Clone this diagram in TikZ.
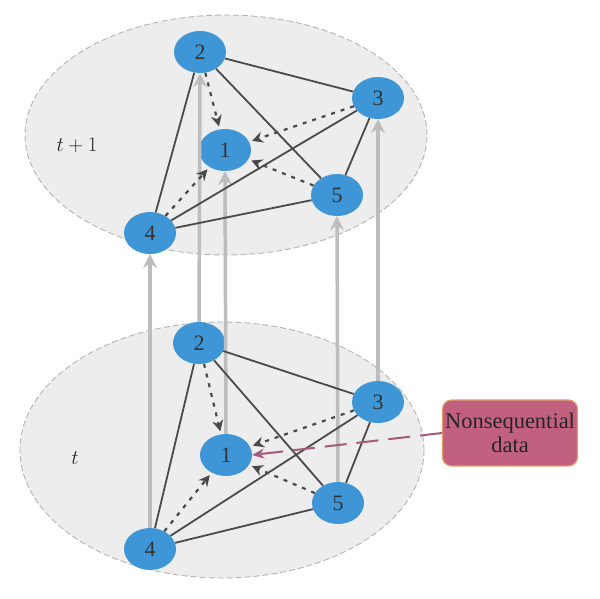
\documentclass[tikz,border=0pt]{standalone}
\usepackage{fontspec}
\setmainfont{Liberation Serif}
\usetikzlibrary{arrows.meta,shapes.geometric}
\definecolor{nodeblue}{HTML}{3E96D6}
\definecolor{planefill}{HTML}{EDEDED}
\definecolor{planeedge}{HTML}{B4B4B4}
\definecolor{edgegray}{HTML}{4A4A4A}
\definecolor{vgray}{HTML}{BDBDBD}
\definecolor{boxfill}{HTML}{C2607F}
\definecolor{boxedge}{HTML}{E5A06A}
\definecolor{pinkarrow}{HTML}{A8587A}
\tikzset{
  plane/.style={fill=planefill,draw=planeedge,dash pattern=on 6pt off 3pt,line width=0.9pt},
  vnode/.style={ellipse,fill=nodeblue,draw=none,minimum width=52pt,minimum height=42pt,inner sep=0pt,font=\fontsize{22}{24}\selectfont,text=black!80},
  edgeline/.style={draw=edgegray,line width=1.8pt},
  dotarrow/.style={draw=edgegray,line width=2.2pt,dash pattern=on 4pt off 6pt,-{Stealth[length=11pt,width=11pt]},shorten >=3pt},
  varrow/.style={draw=vgray,line width=3.5pt,-{Stealth[length=14pt,width=14pt,inset=5pt]}},
  labeltext/.style={font=\fontsize{20}{22}\selectfont,text=black!85},
  notebox/.style={rectangle,rounded corners=9pt,fill=boxfill,draw=boxedge,line width=1.2pt,minimum width=135pt,minimum height=66pt,align=center,font=\fontsize{22.5}{24}\selectfont,text=black!85,inner sep=2pt},
  notearrow/.style={draw=pinkarrow,line width=2pt,dash pattern=on 22pt off 10pt,-{Stealth[length=12pt,width=10pt]}}
}
\begin{document}
\begin{tikzpicture}[x=1pt,y=-1pt]
\useasboundingbox (0,0) rectangle (600,598);
% planes
\draw[plane] (226,135) ellipse [x radius=201pt, y radius=120pt];
\draw[plane] (222,450) ellipse [x radius=202pt, y radius=128pt];
\node[labeltext] (lt1) at (77,145) {$t+1$};
\node[labeltext] (lt) at (75,458) {$t$};
% top nodes
\node[vnode] (a2) at (200,52) {2};
\node[vnode] (a3) at (378,98) {3};
\node[vnode] (a1) at (225,150) {1};
\node[vnode] (a5) at (337,195) {5};
\node[vnode] (a4) at (150,233) {4};
% bottom nodes
\node[vnode] (b2) at (199,343) {2};
\node[vnode] (b3) at (378,402) {3};
\node[vnode] (b1) at (226,455) {1};
\node[vnode] (b5) at (338,503) {5};
\node[vnode] (b4) at (150,549) {4};
% vertical arrows
\draw[varrow] (b4.north) -- (a4.south);
\draw[varrow] (b2.north) -- (a2.south);
\draw[varrow] (b1.north) -- (a1.south);
\draw[varrow] (b5.north) -- (a5.south);
\draw[varrow] (b3.north) -- (a3.south);
% top edges
\draw[edgeline] (a2) -- (a4);
\draw[edgeline] (a2) -- (a3);
\draw[edgeline] (a2) -- (a5);
\draw[edgeline] (a3) -- (a4);
\draw[edgeline] (a3) -- (a5);
\draw[edgeline] (a4) -- (a5);
\draw[dotarrow] (a2) -- (a1);
\draw[dotarrow] (a3) -- (a1);
\draw[dotarrow] (a4) -- (a1);
\draw[dotarrow] (a5) -- (a1);
% bottom edges
\draw[edgeline] (b2) -- (b4);
\draw[edgeline] (b2) -- (b3);
\draw[edgeline] (b2) -- (b5);
\draw[edgeline] (b3) -- (b4);
\draw[edgeline] (b3) -- (b5);
\draw[edgeline] (b4) -- (b5);
\draw[dotarrow] (b2) -- (b1);
\draw[dotarrow] (b3) -- (b1);
\draw[dotarrow] (b4) -- (b1);
\draw[dotarrow] (b5) -- (b1);
% note
\node[notebox] (note) at (510,433) {Nonsequential\\data};
\draw[notearrow] (note.west) -- (b1.east);
\end{tikzpicture}
\end{document}
